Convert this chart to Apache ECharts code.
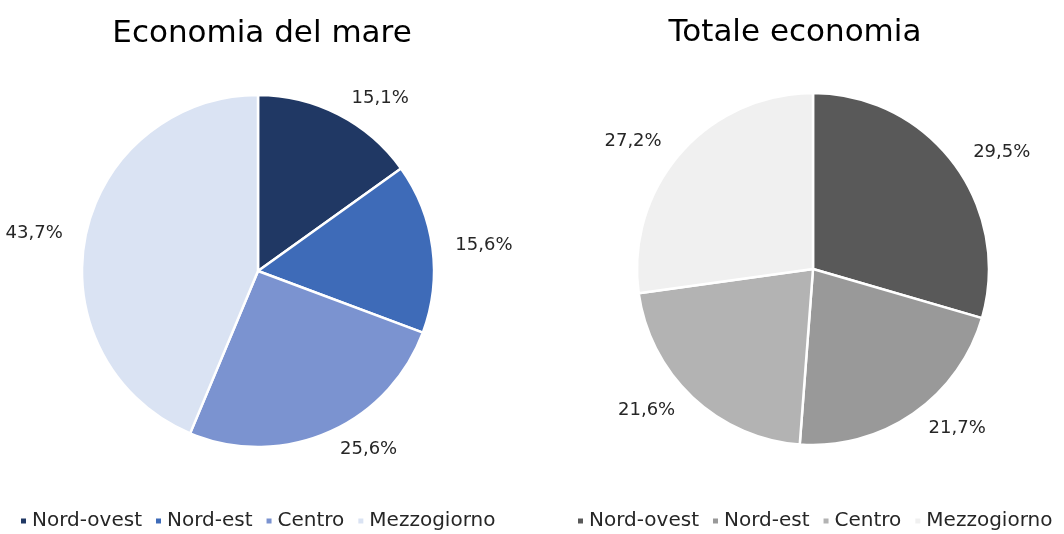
<!DOCTYPE html>
<html>
<head>
<meta charset="utf-8">
<script src="https://cdn.jsdelivr.net/npm/echarts@6/dist/echarts.min.js"></script>
<style>
  html, body { margin: 0; padding: 0; background: #fff; }
  #chart { width: 1064px; height: 534px; }
</style>
</head>
<body>
<div id="chart"></div>
<script>
const areas = ['Nord-ovest', 'Nord-est', 'Centro', 'Mezzogiorno'];
const mareValues = [15.1, 15.6, 25.6, 43.7];
const totaleValues = [29.5, 21.7, 21.6, 27.2];
const mareColors = ['#203864', '#3E6BB8', '#7B93D0', '#DAE3F3'];
const totaleColors = ['#595959', '#999999', '#B3B3B3', '#F0F0F0'];

const font = 'DejaVu Sans';

function pctLabel(p) {
    return p.value.toFixed(1).replace('.', ',') + '%';
}

function pieSeries(name, values, colors, center) {
    return {
        name: name,
        type: 'pie',
        radius: 176,
        center: center,
        startAngle: 90,
        clockwise: true,
        animation: false,
        itemStyle: { borderColor: '#fff', borderWidth: 2.5 },
        label: {
            show: true,
            position: 'outside',
            formatter: pctLabel,
            overflow: 'none',
            edgeDistance: 0,
            color: '#262626',
            fontFamily: font,
            fontSize: 18
        },
        labelLine: { show: false, length: 18, length2: 0 },
        emphasis: { disabled: true },
        data: values.map(function (v, i) {
            return { name: areas[i], value: v, itemStyle: { color: colors[i] } };
        })
    };
}

function legendFor(colors, leftX) {
    return {
        bottom: -2,
        left: leftX,
        itemWidth: 7,
        itemHeight: 7,
        itemGap: 12,
        icon: 'rect',
        selectedMode: false,
        textStyle: { fontFamily: font, fontSize: 20, color: '#262626' },
        data: areas.map(function (a, i) {
            return { name: a, itemStyle: { color: colors[i] } };
        })
    };
}

const chart = echarts.init(document.getElementById('chart'), null, { renderer: 'canvas' });

const option = {
    backgroundColor: '#fff',
    title: [
        {
            text: 'Economia del mare',
            left: 257, top: 13, textAlign: 'center',
            textStyle: { fontFamily: font, fontWeight: 'normal', fontSize: 31, color: '#000' }
        },
        {
            text: 'Totale economia',
            left: 790, top: 12, textAlign: 'center',
            textStyle: { fontFamily: font, fontWeight: 'normal', fontSize: 31, color: '#000' }
        }
    ],
    legend: [legendFor(mareColors, 14), legendFor(totaleColors, 571)],
    series: [
        pieSeries('Economia del mare', mareValues, mareColors, [258, 271]),
        pieSeries('Totale economia', totaleValues, totaleColors, [813, 269])
    ]
};

chart.setOption(option);
window.addEventListener('resize', function () {
    chart.resize();
});
</script>
</body>
</html>
